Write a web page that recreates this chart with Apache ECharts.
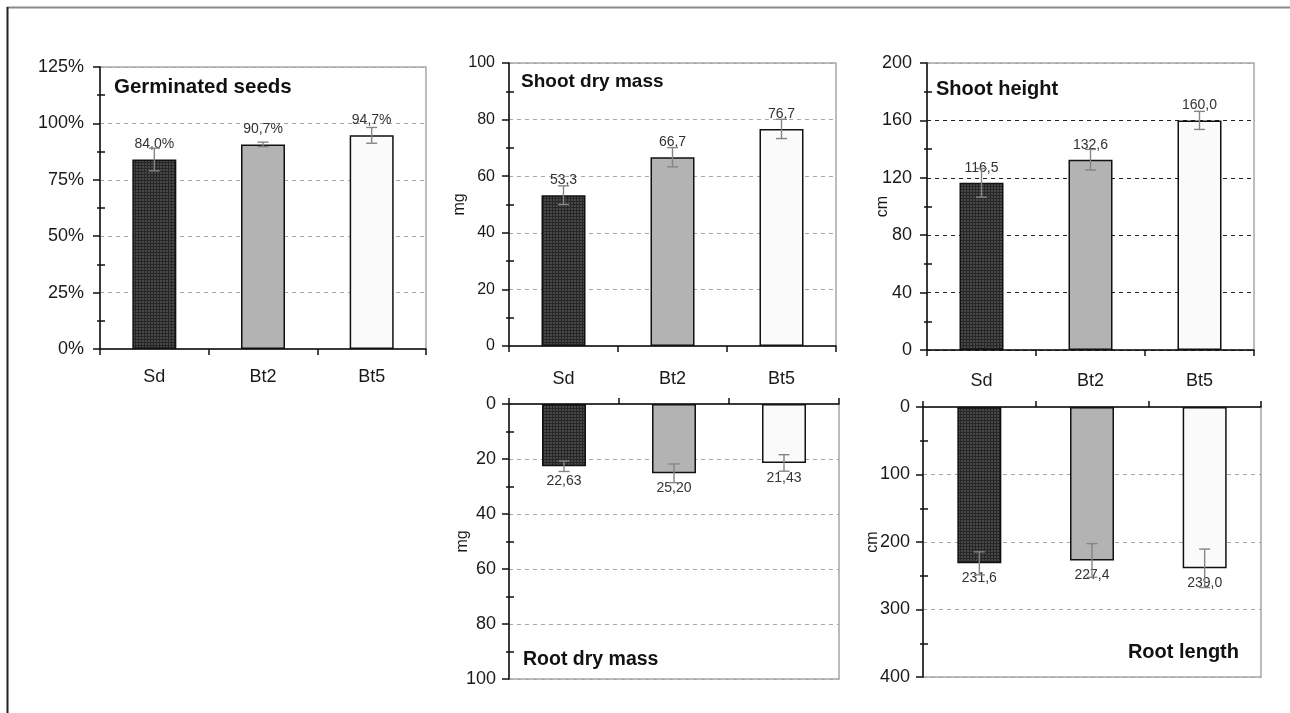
<!DOCTYPE html>
<html>
<head>
<meta charset="utf-8">
<script src="https://cdn.jsdelivr.net/npm/echarts@6/dist/echarts.min.js"></script>
<style>
  html, body { margin: 0; padding: 0; background: #ffffff; }
  #chart { width: 1290px; height: 713px; }
</style>
</head>
<body>
<div id="chart"></div>
<script>
// Treatments
const categories = ['Sd', 'Bt2', 'Bt5'];

// Germinated seeds (%)
const germinatedValues = [84.0, 90.7, 94.7];
const germinatedErrors = [5.0, 1.0, 3.5];

// Shoot dry mass (mg)
const shootMassValues = [53.3, 66.7, 76.7];
const shootMassErrors = [3.3, 3.4, 3.4];

// Shoot height (cm)
const shootHeightValues = [116.5, 132.6, 160.0];
const shootHeightErrors = [10.0, 7.2, 6.3];

// Root dry mass (mg)
const rootMassValues = [22.63, 25.20, 21.43];
const rootMassErrors = [1.9, 3.4, 3.0];

// Root length (cm)
const rootLengthValues = [231.6, 227.4, 239.0];
const rootLengthErrors = [17.0, 25.0, 28.5];

const FONT = '"Liberation Sans", Arial, sans-serif';

// Dark checkered fill used for the Sd bars
function checkPattern() {
  const c = document.createElement('canvas');
  c.width = 3; c.height = 3;
  const g = c.getContext('2d');
  g.fillStyle = '#484848';
  g.fillRect(0, 0, 3, 3);
  g.fillStyle = '#262626';
  g.fillRect(0, 0, 3, 1);
  g.fillRect(0, 0, 1, 3);
  return c;
}
const sdFill = { image: checkPattern(), repeat: 'repeat' };
const barFills = [sdFill, '#b3b3b3', '#fafafa'];

const comma = (v, d) => v.toFixed(d).replace('.', ',');

const panels = [
  { grid: { left: 100, top: 67, width: 326, height: 282 },
    values: germinatedValues, errors: germinatedErrors,
    max: 125, interval: 25, inverse: false,
    tickFmt: v => v + '%', labelFmt: v => comma(v, 1) + '%',
    gridColor: '#a6a6a6', yName: '', nameGap: 0,
    yLabelSize: 18, yLabelMargin: 16, xLabelMargin: 19 },
  { grid: { left: 509, top: 63, width: 327, height: 283 },
    values: shootMassValues, errors: shootMassErrors,
    max: 100, interval: 20, inverse: false,
    tickFmt: v => String(v), labelFmt: v => comma(v, 1),
    gridColor: '#a6a6a6', yName: 'mg', nameGap: 41,
    yLabelSize: 16, yLabelMargin: 14, xLabelMargin: 24 },
  { grid: { left: 927, top: 63, width: 327, height: 287 },
    values: shootHeightValues, errors: shootHeightErrors,
    max: 200, interval: 40, inverse: false,
    tickFmt: v => String(v), labelFmt: v => comma(v, 1),
    gridColor: '#222222', yName: 'cm', nameGap: 36,
    yLabelSize: 18, yLabelMargin: 15, xLabelMargin: 22 },
  { grid: { left: 509, top: 404, width: 330, height: 275 },
    values: rootMassValues, errors: rootMassErrors,
    max: 100, interval: 20, inverse: true,
    tickFmt: v => String(v), labelFmt: v => comma(v, 2),
    gridColor: '#a6a6a6', yName: 'mg', nameGap: 38,
    yLabelSize: 18, yLabelMargin: 13, xLabelMargin: 0 },
  { grid: { left: 923, top: 407, width: 338, height: 270 },
    values: rootLengthValues, errors: rootLengthErrors,
    max: 400, interval: 100, inverse: true,
    tickFmt: v => String(v), labelFmt: v => comma(v, 1),
    gridColor: '#a6a6a6', yName: 'cm', nameGap: 42,
    yLabelSize: 18, yLabelMargin: 13, xLabelMargin: 0 }
];

const grids = [], xAxes = [], yAxes = [], innerTickAxes = [], series = [];

panels.forEach((p, i) => {
  grids.push(Object.assign({
    show: true, borderColor: '#a6a6a6', borderWidth: 1.5,
    backgroundColor: 'transparent', containLabel: false, outerBoundsMode: 'none'
  }, p.grid));

  xAxes.push({
    type: 'category', gridIndex: i, data: categories,
    position: p.inverse ? 'top' : 'bottom',
    axisLine: { show: true, lineStyle: { color: '#111', width: 1.5 } },
    axisTick: { show: true, length: 6, alignWithLabel: false, lineStyle: { color: '#111', width: 1.5 } },
    axisLabel: { show: !p.inverse, margin: p.xLabelMargin, fontSize: 18, color: '#1a1a1a', fontFamily: FONT },
    splitLine: { show: false }
  });

  const nTicks = p.max / p.interval + 1;
  const splitColors = [];
  for (let k = 0; k < nTicks; k++) splitColors.push(k === nTicks - 1 ? '#a6a6a6' : p.gridColor);

  yAxes.push({
    type: 'value', gridIndex: i, position: 'left', min: 0, max: p.max, interval: p.interval,
    inverse: p.inverse,
    name: p.yName, nameLocation: 'middle', nameGap: p.nameGap, nameRotate: 90,
    nameMoveOverlap: false,
    nameTextStyle: { fontSize: 16, color: '#1a1a1a', fontFamily: FONT },
    axisLine: { show: true, lineStyle: { color: '#111', width: 1.5 } },
    axisTick: { show: true, length: 7, lineStyle: { color: '#111', width: 1.5 } },
    minorTick: { show: true, splitNumber: 2, length: 3, lineStyle: { color: '#111', width: 1.5 } },
    axisLabel: { margin: p.yLabelMargin, fontSize: p.yLabelSize, color: '#1a1a1a', fontFamily: FONT, formatter: p.tickFmt },
    splitLine: { show: true, lineStyle: { color: splitColors, type: [4, 4], width: 1 } }
  });

  // Same scale again, only to carry the inner half of the minor ticks
  innerTickAxes.push({
    type: 'value', gridIndex: i, position: 'left', min: 0, max: p.max, interval: p.interval,
    inverse: p.inverse,
    axisLine: { show: false },
    axisTick: { show: false, inside: true },
    minorTick: { show: true, splitNumber: 2, length: 5, lineStyle: { color: '#111', width: 1.5 } },
    axisLabel: { show: false },
    splitLine: { show: false }
  });

  series.push({
    type: 'bar', xAxisIndex: i, yAxisIndex: i, barWidth: 44, z: 2,
    data: p.values.map((v, k) => ({
      value: v,
      itemStyle: { color: barFills[k], borderColor: '#111', borderWidth: 1.5 }
    })),
    label: {
      show: true, position: p.inverse ? 'bottom' : 'top', distance: 8,
      fontSize: 14, color: '#333333', fontFamily: FONT,
      formatter: prm => p.labelFmt(prm.value)
    },
    emphasis: { disabled: true },
    animation: false
  });

  series.push({
    type: 'custom', xAxisIndex: i, yAxisIndex: i, z: 3,
    data: p.values.map((v, k) => [k, v, p.errors[k]]),
    renderItem: (params, api) => {
      const k = api.value(0), v = api.value(1), e = api.value(2);
      const hi = api.coord([k, v + e]);
      const lo = api.coord([k, v - e]);
      const w = 5.5;
      const st = { stroke: '#858585', lineWidth: 1.4 };
      return {
        type: 'group',
        children: [
          { type: 'line', shape: { x1: hi[0], y1: hi[1], x2: lo[0], y2: lo[1] }, style: st },
          { type: 'line', shape: { x1: hi[0] - w, y1: hi[1], x2: hi[0] + w, y2: hi[1] }, style: st },
          { type: 'line', shape: { x1: lo[0] - w, y1: lo[1], x2: lo[0] + w, y2: lo[1] }, style: st }
        ]
      };
    },
    animation: false
  });
});

// Panel titles and outer frame
const titleStyle = (text, size, align) => ({
  text: text, font: 'bold ' + size + 'px ' + FONT, fill: '#111',
  textAlign: align || 'left', textVerticalAlign: 'middle'
});
const graphics = [
  { type: 'line', shape: { x1: 7, y1: 7.5, x2: 1290, y2: 7.5 }, style: { stroke: '#8a8a8a', lineWidth: 2 }, silent: true },
  { type: 'line', shape: { x1: 7.5, y1: 7, x2: 7.5, y2: 713 }, style: { stroke: '#222', lineWidth: 2 }, silent: true },
  { type: 'text', x: 114, y: 87, style: titleStyle('Germinated seeds', 20.5), z: 10 },
  { type: 'text', x: 521, y: 82, style: titleStyle('Shoot dry mass', 19), z: 10 },
  { type: 'text', x: 936, y: 89, style: titleStyle('Shoot height', 20), z: 10 },
  { type: 'text', x: 523, y: 660, style: titleStyle('Root dry mass', 19.5), z: 10 },
  { type: 'text', x: 1239, y: 652, style: titleStyle('Root length', 20, 'right'), z: 10 }
];

const chart = echarts.init(document.getElementById('chart'), null, { renderer: 'canvas' });
chart.setOption({
  animation: false,
  backgroundColor: '#ffffff',
  textStyle: { fontFamily: FONT },
  grid: grids,
  xAxis: xAxes,
  yAxis: yAxes.concat(innerTickAxes),
  series: series,
  graphic: graphics
});
</script>
</body>
</html>
